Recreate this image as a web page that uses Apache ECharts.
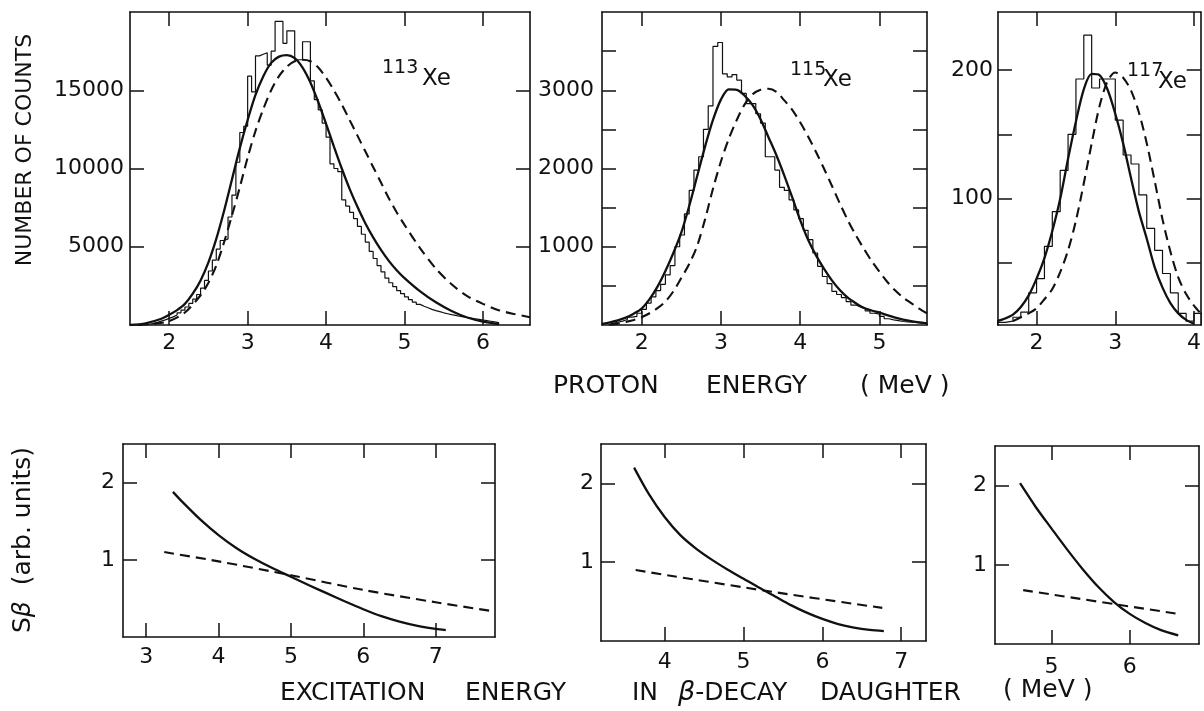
<!DOCTYPE html>
<html>
<head>
<meta charset="utf-8">
<script src="https://cdn.jsdelivr.net/npm/echarts@6/dist/echarts.min.js"></script>
<style>
  html, body { margin: 0; padding: 0; background: #fff; }
  #chart { width: 1204px; height: 711px; }
</style>
</head>
<body>
<div id="chart"></div>
<script>
// ---------- 113Xe proton spectrum ----------
const xe113BinStart = 1.60;
const xe113BinWidth = 0.05;
const xe113Counts = [
  10, 20, 50, 100, 170, 250, 330, 420, 520, 640,
  780, 950, 1150, 1380, 1650, 1950, 2350, 2850, 3450, 4150,
  4850, 5400, 5500, 6900, 8300, 10400, 12300, 12700, 15900, 14900,
  17200, 17300, 17400, 16600, 17500, 19400, 19400, 18000, 18800, 18800,
  16950, 16950, 18100, 18100, 15600, 14400, 13750, 12900, 12000, 10300,
  10000, 9800, 8000, 7600, 7200, 6800, 6300, 5800, 5300, 4700,
  4250, 3800, 3400, 3000, 2700, 2450, 2200, 2000, 1800, 1620,
  1460, 1320, 1200, 1100, 1000, 920, 850, 780, 720, 660,
  610, 560, 520, 480, 440, 400, 360, 320, 280, 240,
  200, 150
];
const xe113Solid = [
  [1.5, 0], [1.7, 110], [1.9, 400], [2.0, 650], [2.1, 950], [2.2, 1350], [2.3, 2000],
  [2.4, 2850], [2.5, 4000], [2.6, 5500], [2.7, 7300], [2.8, 9300], [2.9, 11300],
  [3.0, 13100], [3.1, 14700], [3.2, 15900], [3.3, 16750], [3.4, 17150], [3.5, 17250],
  [3.6, 17050], [3.7, 16450], [3.8, 15500], [3.9, 14250], [4.0, 12850], [4.1, 11400],
  [4.2, 10000], [4.3, 8700], [4.4, 7550], [4.5, 6500], [4.6, 5600], [4.7, 4800],
  [4.8, 4100], [4.9, 3500], [5.0, 3000], [5.2, 2150], [5.4, 1450], [5.6, 900],
  [5.8, 480], [6.0, 220], [6.2, 60]
];
const xe113Dashed = [
  [1.6, 0], [1.8, 80], [2.0, 250], [2.2, 800], [2.4, 1900], [2.5, 2700], [2.6, 3800],
  [2.7, 5300], [2.8, 7000], [2.9, 8800], [3.0, 10700], [3.1, 12400], [3.2, 13800],
  [3.3, 15000], [3.4, 15900], [3.5, 16500], [3.6, 16850], [3.7, 16950], [3.8, 16850],
  [3.9, 16450], [4.0, 15800], [4.1, 15000], [4.2, 14100], [4.3, 13100], [4.4, 12100],
  [4.5, 11100], [4.6, 10100], [4.7, 9100], [4.8, 8100], [4.9, 7200], [5.0, 6400],
  [5.2, 4900], [5.4, 3600], [5.6, 2600], [5.8, 1850], [6.0, 1350], [6.2, 950],
  [6.4, 700], [6.6, 500]
];

// ---------- 115Xe proton spectrum ----------
const xe115BinStart = 1.58;
const xe115BinWidth = 0.06;
const xe115Counts = [
  20, 35, 50, 70, 100, 110, 150, 200, 280, 360,
  440, 520, 640, 760, 1000, 1150, 1420, 1720, 1980, 2150,
  2500, 2800, 3560, 3610, 3210, 3170, 3200, 3130, 2960, 2830,
  2830, 2700, 2580, 2150, 2150, 1980, 1760, 1720, 1600, 1470,
  1360, 1210, 1090, 920, 750, 620, 530, 430, 390, 350,
  300, 255, 230, 210, 180, 150, 140, 110, 80, 65,
  55, 45, 40, 35, 30, 25, 20
];
const xe115Solid = [
  [1.5, 15], [1.6, 35], [1.7, 60], [1.8, 95], [1.9, 145], [2.0, 210], [2.1, 330],
  [2.2, 490], [2.3, 690], [2.4, 920], [2.5, 1180], [2.6, 1520], [2.7, 1900], [2.8, 2280],
  [2.9, 2620], [3.0, 2880], [3.1, 3010], [3.2, 3005], [3.3, 2930], [3.4, 2810],
  [3.5, 2630], [3.6, 2400], [3.7, 2170], [3.8, 1910], [3.9, 1630], [4.0, 1341],
  [4.1, 1090], [4.2, 890], [4.3, 720], [4.4, 570], [4.5, 447], [4.6, 350], [4.7, 280],
  [4.8, 220], [4.9, 185], [5.0, 157], [5.2, 95], [5.4, 50], [5.6, 21]
];
const xe115Dashed = [
  [1.6, 5], [1.7, 18], [1.8, 40], [1.9, 65], [2.0, 100], [2.1, 150], [2.2, 215],
  [2.3, 300], [2.4, 430], [2.5, 600], [2.6, 780], [2.7, 1010], [2.8, 1350], [2.9, 1740],
  [3.0, 2090], [3.1, 2380], [3.2, 2620], [3.3, 2820], [3.4, 2950], [3.5, 3005],
  [3.6, 3020], [3.7, 2980], [3.8, 2870], [3.9, 2750], [4.0, 2590], [4.1, 2410],
  [4.2, 2210], [4.3, 2000], [4.4, 1780], [4.5, 1554], [4.6, 1340], [4.7, 1150],
  [4.8, 980], [4.9, 820], [5.0, 680], [5.1, 550], [5.2, 440], [5.3, 350], [5.4, 280],
  [5.5, 210], [5.6, 150]
];

// ---------- 117Xe proton spectrum ----------
const xe117BinStart = 1.5;
const xe117BinWidth = 0.1;
const xe117Counts = [
  4, 5, 8, 12, 27, 38, 63, 90, 122, 150,
  193, 227, 186, 193, 193, 161, 134, 127, 103, 77,
  60, 42, 27, 11, 5, 11
];
const xe117Solid = [
  [1.5, 5], [1.6, 7], [1.7, 10], [1.8, 16], [1.9, 25], [2.0, 38], [2.1, 54], [2.2, 75],
  [2.3, 100], [2.4, 131], [2.5, 160], [2.6, 185], [2.7, 197], [2.8, 196], [2.9, 185],
  [3.0, 166], [3.1, 143], [3.2, 116], [3.3, 90], [3.4, 69], [3.5, 47], [3.6, 31],
  [3.7, 19], [3.8, 11], [3.9, 6], [4.0, 3]
];
const xe117Dashed = [
  [1.7, 5], [1.8, 8], [1.9, 11], [2.0, 15], [2.1, 22], [2.2, 30], [2.3, 43], [2.4, 60],
  [2.5, 83], [2.6, 112], [2.7, 143], [2.8, 172], [2.9, 191], [3.0, 198], [3.1, 194],
  [3.2, 184], [3.3, 167], [3.4, 143], [3.5, 114], [3.6, 84], [3.7, 59], [3.8, 39],
  [3.9, 26], [4.0, 17], [4.1, 10]
];

// ---------- beta strength functions S_beta(E) ----------
const sb113Solid = [
  [3.37, 1.88], [3.5, 1.75], [3.75, 1.52], [4.0, 1.32], [4.25, 1.15], [4.5, 1.01],
  [4.75, 0.89], [5.0, 0.78], [5.25, 0.67], [5.5, 0.565], [5.75, 0.46], [6.0, 0.36],
  [6.25, 0.27], [6.5, 0.20], [6.75, 0.145], [7.0, 0.105], [7.14, 0.09]
];
const sb113Dashed = [[3.25, 1.10], [4.0, 0.98], [5.0, 0.80], [6.0, 0.61], [7.0, 0.45], [7.82, 0.33]];

const sb115Solid = [
  [3.61, 2.20], [3.8, 1.86], [4.0, 1.57], [4.2, 1.34], [4.4, 1.17], [4.6, 1.03],
  [4.8, 0.905], [5.0, 0.79], [5.2, 0.675], [5.4, 0.565], [5.6, 0.455], [5.8, 0.36],
  [6.0, 0.28], [6.2, 0.215], [6.4, 0.17], [6.6, 0.14], [6.78, 0.125]
];
const sb115Dashed = [[3.63, 0.90], [5.26, 0.64], [6.76, 0.42]];

const sb117Solid = [
  [4.6, 2.03], [4.8, 1.73], [5.0, 1.46], [5.2, 1.195], [5.4, 0.945], [5.6, 0.72],
  [5.8, 0.53], [6.0, 0.38], [6.2, 0.265], [6.4, 0.175], [6.62, 0.11]
];
const sb117Dashed = [[4.64, 0.68], [6.62, 0.38]];

// ---------- tick values ----------
const ticksX113 = [2, 3, 4, 5, 6];
const ticksY113 = [5000, 10000, 15000];
const ticksX115 = [2, 3, 4, 5];
const ticksY115 = [500, 1000, 1500, 2000, 2500, 3000, 3500];
const labelsY115 = [1000, 2000, 3000];
const ticksX117 = [2, 3, 4];
const ticksY117 = [50, 100, 150, 200];
const labelsY117 = [100, 200];
const ticksXsb113 = [3, 4, 5, 6, 7];
const ticksXsb115 = [4, 5, 6, 7];
const ticksXsb117 = [5, 6];
const ticksYsb = [1, 2];

// ---------- layout ----------
const INK = '#111';
const FONT = 'DejaVu Sans';

const panels = [
  { grid: { left: 130, top: 12, width: 400, height: 313 }, x: [1.5, 6.6], y: [0, 20000],
    xt: ticksX113, xl: ticksX113, yt: ticksY113, yl: ticksY113, xm: 7, ym: 6 },
  { grid: { left: 602, top: 12, width: 325, height: 313 }, x: [1.5, 5.6], y: [0, 4000],
    xt: ticksX115, xl: ticksX115, yt: ticksY115, yl: labelsY115, xm: 7, ym: 8 },
  { grid: { left: 998, top: 12, width: 206, height: 313 }, x: [1.51, 4.085], y: [2, 245],
    xt: ticksX117, xl: ticksX117, yt: ticksY117, yl: labelsY117, xm: 7, ym: 5 },
  { grid: { left: 123, top: 444, width: 372, height: 193 }, x: [2.68, 7.82], y: [0, 2.5],
    xt: ticksXsb113, xl: ticksXsb113, yt: ticksYsb, yl: ticksYsb, xm: 9, ym: 8 },
  { grid: { left: 601, top: 444, width: 325, height: 197 }, x: [3.19, 7.315], y: [0, 2.5],
    xt: ticksXsb115, xl: ticksXsb115, yt: ticksYsb, yl: ticksYsb, xm: 10, ym: 7 },
  { grid: { left: 995, top: 446, width: 204, height: 198 }, x: [4.28, 6.885], y: [0, 2.5],
    xt: ticksXsb117, xl: ticksXsb117, yt: ticksYsb, yl: ticksYsb, xm: 12, ym: 8 }
];

function histOutline(start, width, counts) {
  const pts = [[start, 0]];
  counts.forEach((c, i) => pts.push([+(start + i * width).toFixed(4), c]));
  pts.push([+(start + counts.length * width).toFixed(4), 0]);
  return pts;
}

const grids = [], xAxes = [], yAxes = [];
panels.forEach((p, i) => {
  grids.push(Object.assign({ containLabel: false }, p.grid));
  const line = { show: true, onZero: false, lineStyle: { color: INK, width: 1.6 } };
  const tick = (vals) => ({ show: true, inside: true, length: 14, customValues: vals,
    lineStyle: { color: INK, width: 1.5 } });
  const label = (vals, margin) => ({ show: true, customValues: vals, margin: margin,
    color: INK, fontFamily: FONT, fontSize: 22, formatter: (v) => String(v) });
  xAxes.push({ type: 'value', gridIndex: i, position: 'bottom', min: p.x[0], max: p.x[1],
    axisLine: line, axisTick: tick(p.xt), axisLabel: label(p.xl, p.xm), splitLine: { show: false } });
  xAxes.push({ type: 'value', gridIndex: i, position: 'top', min: p.x[0], max: p.x[1],
    axisLine: line, axisTick: tick(p.xt), axisLabel: { show: false }, splitLine: { show: false } });
  yAxes.push({ type: 'value', gridIndex: i, position: 'left', min: p.y[0], max: p.y[1],
    axisLine: line, axisTick: tick(p.yt), axisLabel: label(p.yl, p.ym), splitLine: { show: false } });
  yAxes.push({ type: 'value', gridIndex: i, position: 'right', min: p.y[0], max: p.y[1],
    axisLine: line, axisTick: tick(p.yt), axisLabel: { show: false }, splitLine: { show: false } });
});

function histSeries(i, data) {
  return { type: 'line', xAxisIndex: 2 * i, yAxisIndex: 2 * i, data: data, step: 'end',
    symbol: 'none', lineStyle: { color: INK, width: 1.2 }, z: 2, silent: true };
}
function curveSeries(i, data, dashed) {
  return { type: 'line', xAxisIndex: 2 * i, yAxisIndex: 2 * i, data: data, smooth: 0.3,
    symbol: 'none', z: 3, silent: true,
    lineStyle: { color: INK, width: dashed ? 2.1 : 2.3, type: dashed ? [10, 6] : 'solid' } };
}

const series = [
  histSeries(0, histOutline(xe113BinStart, xe113BinWidth, xe113Counts)),
  curveSeries(0, xe113Solid, false), curveSeries(0, xe113Dashed, true),
  histSeries(1, histOutline(xe115BinStart, xe115BinWidth, xe115Counts)),
  curveSeries(1, xe115Solid, false), curveSeries(1, xe115Dashed, true),
  histSeries(2, histOutline(xe117BinStart, xe117BinWidth, xe117Counts)),
  curveSeries(2, xe117Solid, false), curveSeries(2, xe117Dashed, true),
  curveSeries(3, sb113Solid, false), curveSeries(3, sb113Dashed, true),
  curveSeries(4, sb115Solid, false), curveSeries(4, sb115Dashed, true),
  curveSeries(5, sb117Solid, false), curveSeries(5, sb117Dashed, true)
];

function txt(x, y, text, size, opts) {
  return Object.assign({ type: 'text', x: x, y: y, silent: true,
    style: Object.assign({ text: text, fill: INK, font: size + 'px "' + FONT + '"',
      textAlign: 'left', textVerticalAlign: 'middle' }, (opts && opts.style) || {}) },
    opts && opts.rotation !== undefined ? { rotation: opts.rotation } : {});
}

const graphics = [
  // isotope labels
  txt(382, 68, '113', 19), txt(422, 79, 'Xe', 23),
  txt(790, 70, '115', 19), txt(823, 80, 'Xe', 23),
  txt(1127, 71, '117', 19), txt(1158, 82, 'Xe', 23),
  // axis titles, top row
  txt(25, 150, 'NUMBER OF COUNTS', 22, { rotation: Math.PI / 2, style: { textAlign: 'center' } }),
  txt(553, 386, 'PROTON', 25), txt(706, 386, 'ENERGY', 25), txt(860, 386, '( MeV )', 25),
  // axis titles, bottom row
  { type: 'text', x: 23, y: 540, rotation: Math.PI / 2, silent: true,
    style: { text: '{s|S}{b|β}{s|  (arb. units)}', textAlign: 'center', textVerticalAlign: 'middle',
      rich: { s: { fill: INK, font: '25px "' + FONT + '"' },
              b: { fill: INK, font: 'italic 25px "' + FONT + '"' } } } },
  txt(280, 693, 'EXCITATION', 25), txt(465, 693, 'ENERGY', 25), txt(632, 693, 'IN', 25),
  { type: 'text', x: 678, y: 693, silent: true,
    style: { text: '{b|β}{s|-DECAY}', textAlign: 'left', textVerticalAlign: 'middle',
      rich: { s: { fill: INK, font: '25px "' + FONT + '"' },
              b: { fill: INK, font: 'italic 27px "' + FONT + '"' } } } },
  txt(820, 693, 'DAUGHTER', 25), txt(1003, 690, '( MeV )', 25)
];

const chart = echarts.init(document.getElementById('chart'), null, { renderer: 'canvas' });
chart.setOption({
  animation: false,
  backgroundColor: '#fff',
  grid: grids,
  xAxis: xAxes,
  yAxis: yAxes,
  series: series,
  graphic: graphics
});
</script>
</body>
</html>
